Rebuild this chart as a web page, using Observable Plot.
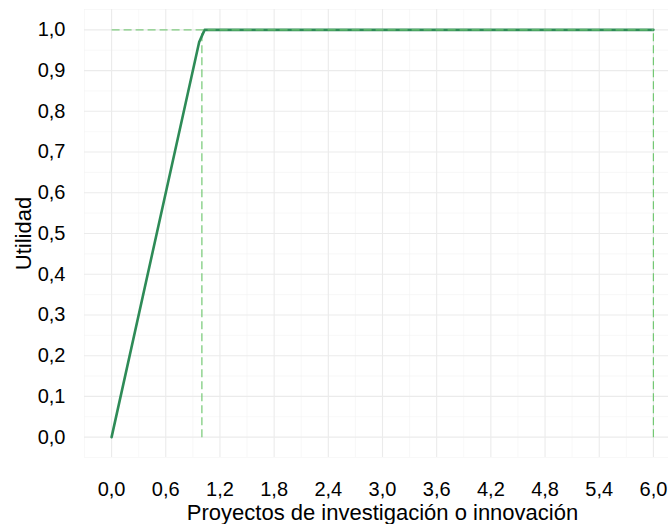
<!DOCTYPE html>
<html>
<head>
<meta charset="utf-8">
<script src="https://cdn.jsdelivr.net/npm/d3@7"></script>
<script src="https://cdn.jsdelivr.net/npm/@observablehq/plot@0.6"></script>
<style>
  html, body { margin: 0; padding: 0; background: #fff; }
  #chart svg { display: block; }
</style>
</head>
<body>
<div id="chart"></div>
<script>
// Utility curve data
const projX = [0, 0.97, 1.03, 6];
const utilY = [0, 0.97, 1.0, 1.0];

// Reference lines
const refVX = [1, 6];          // vertical dashed at these x (from 0 to 1)
const refHY = [1];             // horizontal dashed at y = 1 (from 0 to 6)

// Ticks
const xTicks = [0, 0.6, 1.2, 1.8, 2.4, 3.0, 3.6, 4.2, 4.8, 5.4, 6.0];
const xTickLabels = ["0,0","0,6","1,2","1,8","2,4","3,0","3,6","4,2","4,8","5,4","6,0"];
const yTicks = [0, 0.1, 0.2, 0.3, 0.4, 0.5, 0.6, 0.7, 0.8, 0.9, 1.0];
const yTickLabels = ["0,0","0,1","0,2","0,3","0,4","0,5","0,6","0,7","0,8","0,9","1,0"];
const xMinor = [-0.3, 0.3, 0.9, 1.5, 2.1, 2.7, 3.3, 3.9, 4.5, 5.1, 5.7, 6.3];
const yMinor = [-0.05, 0.05, 0.15, 0.25, 0.35, 0.45, 0.55, 0.65, 0.75, 0.85, 0.95, 1.05];

const xTitle = "Proyectos de investigación o innovación";
const yTitle = "Utilidad";

const curve = projX.map((x, i) => ({x, y: utilY[i]}));
const vLines = refVX.map(x => ({x1: x, x2: x, y1: 0, y2: 1}));
const hLines = refHY.map(y => ({x1: 0, x2: 6, y1: y, y2: y}));

const font = "'Liberation Sans', Arial, sans-serif";

const chart = Plot.plot({
  width: 668,
  height: 524,
  marginLeft: 84,
  marginRight: -12,
  marginTop: 9,
  marginBottom: 67,
  style: { fontFamily: font, fontSize: "20px", color: "#000", background: "#fff" },
  x: { domain: [-0.3, 6.3] },
  y: { domain: [-0.05, 1.05] },
  marks: [
    Plot.ruleX(xMinor, { stroke: "#f3f3f3", strokeWidth: 0.6 }),
    Plot.ruleY(yMinor, { stroke: "#f3f3f3", strokeWidth: 0.6 }),
    Plot.ruleX(xTicks, { stroke: "#ebebeb", strokeWidth: 1.1 }),
    Plot.ruleY(yTicks, { stroke: "#ebebeb", strokeWidth: 1.1 }),
    Plot.axisX({ ticks: xTicks, tickSize: 0, tickPadding: 24, tickFormat: (d) => xTickLabels[xTicks.indexOf(d)], label: null, fontSize: 20 }),
    Plot.axisY({ ticks: yTicks, tickSize: 0, tickPadding: 19, tickFormat: (d) => yTickLabels[yTicks.indexOf(d)], label: null, fontSize: 20 }),
    Plot.link(vLines, { x1: "x1", x2: "x2", y1: "y1", y2: "y2", stroke: "#74c874", strokeWidth: 1.2, strokeDasharray: "8,4" }),
    Plot.line(curve, { x: "x", y: "y", stroke: "#2e8b57", strokeWidth: 2.6 }),
    Plot.link(hLines, { x1: "x1", x2: "x2", y1: "y1", y2: "y2", stroke: "#74c874", strokeWidth: 1.2, strokeDasharray: "8,4", strokeOpacity: 0.9 }),
    Plot.text([xTitle], { frameAnchor: "bottom", text: d => d, dy: 62, fontSize: 22, lineAnchor: "bottom", textAnchor: "middle", fill: "#000" }),
    Plot.text([yTitle], { frameAnchor: "left", text: d => d, dx: -61, rotate: -90, fontSize: 22, lineAnchor: "middle", textAnchor: "middle", fill: "#000" })
  ]
});

document.getElementById("chart").appendChild(chart);
</script>
</body>
</html>
